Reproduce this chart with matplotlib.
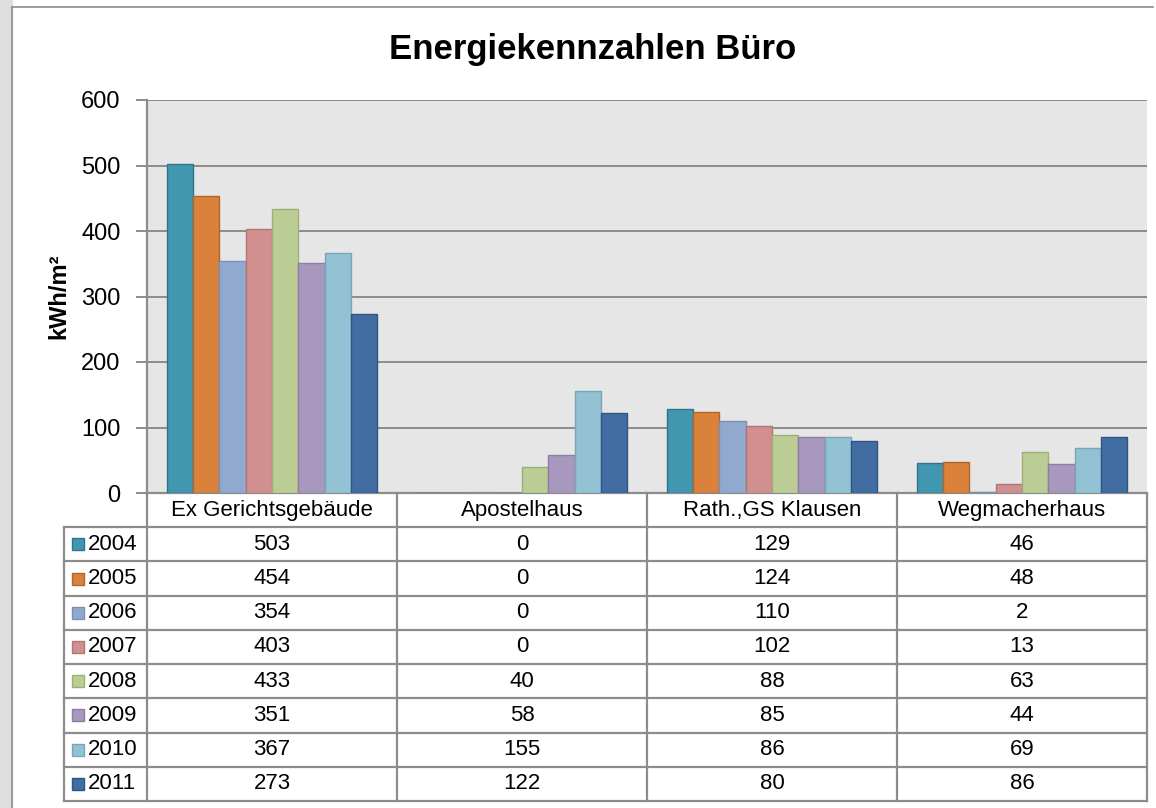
import matplotlib
matplotlib.use("Agg")
import matplotlib.pyplot as plt
import numpy as np

plt.rcParams['font.family'] = ['Liberation Sans', 'DejaVu Sans']

# Daten
gebaeude = ["Ex Gerichtsgebäude", "Apostelhaus", "Rath.,GS Klausen", "Wegmacherhaus"]
jahre = ["2004", "2005", "2006", "2007", "2008", "2009", "2010", "2011"]
w2004 = [503, 0, 129, 46]
w2005 = [454, 0, 124, 48]
w2006 = [354, 0, 110, 2]
w2007 = [403, 0, 102, 13]
w2008 = [433, 40, 88, 63]
w2009 = [351, 58, 85, 44]
w2010 = [367, 155, 86, 69]
w2011 = [273, 122, 80, 86]
werte = [w2004, w2005, w2006, w2007, w2008, w2009, w2010, w2011]

farben = ['#4197AF', '#DA813C', '#92A9CF', '#D18F8F', '#BBCC95', '#A898BD', '#93C2D4', '#426DA2']
kanten = ['#2F7489', '#B0652A', '#7A90B5', '#B07676', '#9DAF78', '#8C7DA2', '#78A6B8', '#2F5585']

W, H = 1156, 808
fig = plt.figure(figsize=(W / 100, H / 100), dpi=100)

# Hintergrund / Rahmen
fig.patches.append(plt.Rectangle((0, 0), 12 / W, 1, transform=fig.transFigure,
                                 color='#DEDEDE', zorder=0))
fig.lines.append(plt.Line2D([12 / W, 12 / W], [0, 1 - 7 / H], transform=fig.transFigure,
                            color='#8C8C8C', lw=1.2))
fig.lines.append(plt.Line2D([12 / W, 1 - 3 / W], [1 - 7 / H, 1 - 7 / H], transform=fig.transFigure,
                            color='#8C8C8C', lw=1.2))

# Diagramm
x0, x1 = 147, 1147
y_top, y_bot = 100, 493
ax = fig.add_axes([x0 / W, (H - y_bot) / H, (x1 - x0) / W, (y_bot - y_top) / H])
ax.set_facecolor('#E6E6E6')

n = len(jahre)
bw = 1 / (n + 1.5)
start = 0.75 * bw
xs = np.arange(len(gebaeude))
for i, (vals, fc, ec) in enumerate(zip(werte, farben, kanten)):
    ax.bar(xs + start + i * bw, vals, width=bw, align='edge', color=fc,
           edgecolor=ec, linewidth=1.0, zorder=3)

ax.set_xlim(0, len(gebaeude))
ax.set_ylim(0, 600)
ax.set_yticks(range(0, 601, 100))
ax.yaxis.grid(True, color='#8C8C8C', lw=1.4, zorder=1)
ax.set_xticks([])
ax.tick_params(axis='y', length=8, width=1.4, color='#8C8C8C', labelsize=17, pad=11)
for s in ['top', 'right']:
    ax.spines[s].set_visible(False)
ax.spines['left'].set_color('#8C8C8C')
ax.spines['left'].set_linewidth(1.6)
ax.spines['bottom'].set_color('#8C8C8C')
ax.spines['bottom'].set_linewidth(1.6)

fig.text(593 / W, 1 - 49 / H, 'Energiekennzahlen Büro', ha='center', va='center',
         fontsize=25, fontweight='bold')
fig.text(59 / W, 1 - 296 / H, 'kWh/m²', ha='center', va='center', rotation=90,
         fontsize=17, fontweight='bold')

# Datentabelle
t_left, t_bot = 64, 801
tab = fig.add_axes([t_left / W, (H - t_bot) / H, (x1 - t_left) / W, (t_bot - y_bot) / H])
erste = -(x0 - t_left) / ((x1 - x0) / len(gebaeude))
tab.set_xlim(erste, len(gebaeude))
tab.set_ylim(n + 1, 0)
tab.axis('off')
lc = '#8C8C8C'
lw = 1.6
tab.plot([0, 0], [0, n + 1], color=lc, lw=lw, clip_on=False)
for k in range(1, len(gebaeude) + 1):
    tab.plot([k, k], [0, n + 1], color=lc, lw=lw, clip_on=False)
tab.plot([erste, erste], [1, n + 1], color=lc, lw=lw, clip_on=False)
for r in range(1, n + 2):
    tab.plot([erste, len(gebaeude)], [r, r], color=lc, lw=lw, clip_on=False)

for k, name in enumerate(gebaeude):
    tab.text(k + 0.5, 0.5, name, ha='center', va='center', fontsize=16)

for r, (jahr, vals, fc, ec) in enumerate(zip(jahre, werte, farben, kanten)):
    yy = r + 1.5
    tab.plot([erste + 0.056], [yy], marker='s', ms=8.6, mfc=fc, mec=ec, mew=1.0,
             clip_on=False)
    tab.text(erste + 0.096, yy, jahr, ha='left', va='center', fontsize=16)
    for k, v in enumerate(vals):
        tab.text(k + 0.5, yy, str(v), ha='center', va='center', fontsize=16)

fig.savefig('out.png', dpi=100)
